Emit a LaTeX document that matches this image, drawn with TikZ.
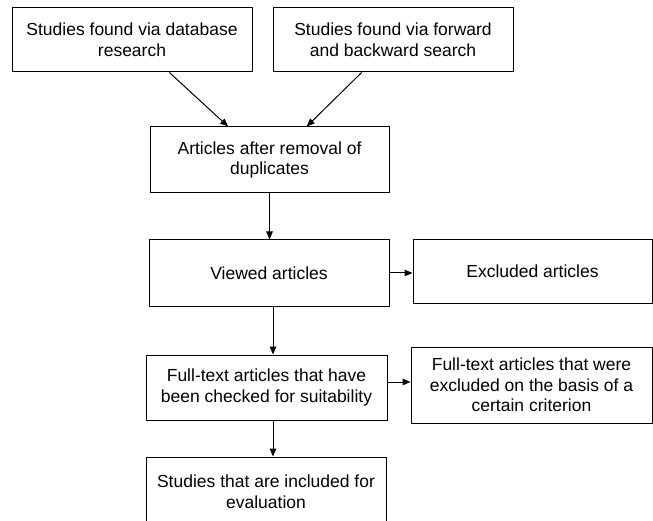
\documentclass[tikz,border=0pt]{standalone}
\usepackage{fontspec}
\setmainfont{Liberation Sans}
\usepackage{tikz}
\usetikzlibrary{positioning, arrows.meta, calc}

\begin{document}
\begin{tikzpicture}[
      x=1pt, y=-1pt,
      stagebox/.style={rectangle, draw=black, line width=1pt,
                       minimum width=240pt, minimum height=65pt,
                       font=\fontsize{17.5}{20.7}\selectfont, align=center,
                       inner sep=0pt},
      arr/.style={-{Triangle[length=8pt, width=6.5pt]}, line width=1pt}
    ]
    \useasboundingbox (0,0) rectangle (653,521);
    \clip (0,0) rectangle (653,521);

    % Row 1: sources
    \node[stagebox, minimum height=64pt] (dbase) at (132, 40)
      {Studies found via database\\research};
    \node[stagebox, minimum height=64pt] (fwdbwd) at (393, 40)
      {Studies found via forward\\and backward search};

    % Row 2: duplicates removed
    \node[stagebox, minimum width=239pt, minimum height=66pt] (dedup) at (269.5, 160)
      {Articles after removal of\\duplicates};

    % Row 3: screening
    \node[stagebox, minimum height=66pt] (viewed) at (269, 273) {Viewed articles};
    \node[stagebox, minimum width=239pt, minimum height=63pt] (excl) at (532.5, 271.5)
      {Excluded articles};

    % Row 4: eligibility
    \node[stagebox, minimum width=241pt] (fulltext) at (266.5, 387.5)
      {Full-text articles that have\\been checked for suitability};
    \node[stagebox, minimum width=241pt, minimum height=76pt] (critexcl) at (531.5, 385)
      {Full-text articles that were\\excluded on the basis of a\\certain criterion};

    % Row 5: included
    \node[stagebox, minimum height=70pt] (incl) at (266, 492)
      {Studies that are included for\\evaluation};

    % Connectors
    \draw[arr] (dbase.-41) -- (dedup.141);
    \draw[arr] (fwdbwd.-134) -- (dedup.42);
    \draw[arr] (dedup.south) -- (dedup.south |- viewed.north);
    \draw[arr] (viewed.east) -- (viewed.east -| excl.west);
    \draw[arr] ([xshift=4pt]viewed.south) -- ([xshift=4pt]viewed.south |- fulltext.north);
    \draw[arr] ([yshift=5.5pt]fulltext.east) -- ([yshift=5.5pt]fulltext.east -| critexcl.west);
    \draw[arr] ([xshift=6.5pt]fulltext.south) -- ([xshift=6.5pt]fulltext.south |- incl.north);
  \end{tikzpicture}
\end{document}
